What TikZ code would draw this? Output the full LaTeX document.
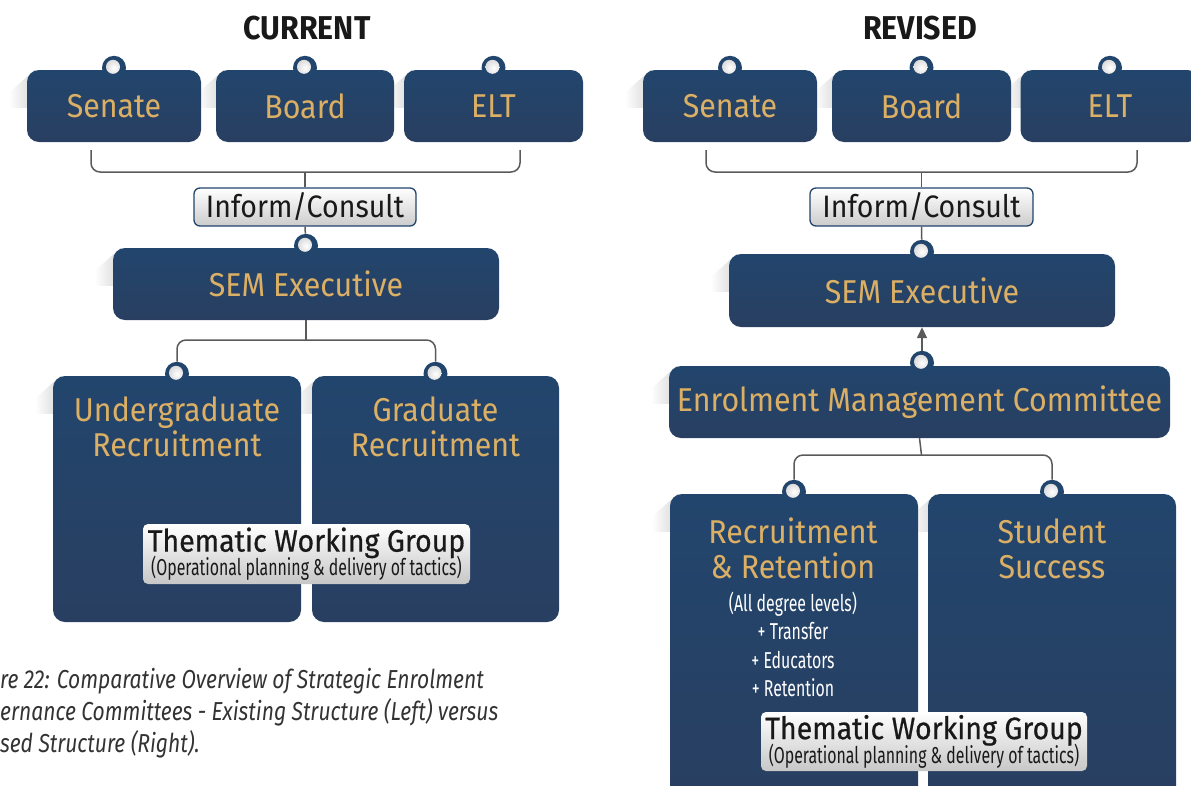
\documentclass[tikz,border=0pt]{standalone}
\usepackage{fontspec}
\setmainfont{Fira Sans}[FakeStretch=0.92]
\newfontfamily\narrowfont{Fira Sans}[FakeStretch=0.69]
\newfontfamily\groupfont{Fira Sans}[FakeStretch=0.92, FakeBold=0.6]
\newfontfamily\capfont{Fira Sans}[FakeStretch=0.81]
\usetikzlibrary{positioning, arrows.meta, backgrounds}

\definecolor{navy}{HTML}{22456D}
\definecolor{navydark}{HTML}{293F61}
\definecolor{gold}{HTML}{DCB064}
\definecolor{wire}{HTML}{5A5A5A}

\tikzset{
  unit/.style={rectangle, rounded corners=12, top color=navy, bottom color=navydark,
    text=gold, font=\fontsize{33}{35}\selectfont, align=center, inner sep=0},
  tag/.style={rectangle, rounded corners=6, top color=white, bottom color=black!20,
    draw=navy, line width=1.3, text=black!90, font=\fontsize{31}{33}\selectfont, inner sep=0},
  twg/.style={rectangle, rounded corners=5, top color=white, bottom color=black!22,
    text=black!90, align=center, inner sep=0},
  knob/.style={circle, fill=navy, minimum size=24, inner sep=0,
    path picture={\shade[inner color=white, outer color=black!20]
      ([shift={(-1,-1)}]path picture bounding box.center) circle (7);}},
  link/.style={draw=wire, line width=1.5, rounded corners=9},
  title/.style={font=\fontsize{33}{35}\selectfont\bfseries, text=black!90}
}

\begin{document}
\begin{tikzpicture}[x=1pt, y=-1pt]
  \useasboundingbox (0,0) rectangle (1191,785);

  % ---- current structure ----
  \node[title] (cur) at (307,28) {CURRENT};
  \node[unit, minimum width=174, minimum height=72] (sen) at (114,106) {Senate};
  \node[unit, minimum width=178, minimum height=72] (brd) at (305,106) {Board};
  \node[unit, minimum width=179, minimum height=72] (elt) at (493.5,106) {ELT};
  \node[tag, minimum width=222, minimum height=38] (inf) at (305,207) {Inform/Consult};
  \node[unit, minimum width=386, minimum height=72] (sem) at (306,284) {SEM Executive};
  \node[unit, minimum width=248, minimum height=246] (ug) at (177,499) {};
  \node[unit, minimum width=247, minimum height=246] (gr) at (435.5,499) {};
  \node[text=gold, font=\fontsize{33}{35}\selectfont, align=center] (ugt) at (177,427) {Undergraduate\\Recruitment};
  \node[text=gold, font=\fontsize{33}{35}\selectfont, align=center] (grt) at (435.5,427) {Graduate\\Recruitment};
  \node[twg, minimum width=327, minimum height=60] (twg) at (306.5,554)
    {\fontsize{31}{25}\selectfont\groupfont Thematic Working Group\\[-3pt]
     \fontsize{23}{20}\selectfont\narrowfont (Operational planning \& delivery of tactics)};

  \node[knob] (k1) at ([yshift=2]sen.north) {};
  \node[knob] (k2) at ([yshift=2]brd.north) {};
  \node[knob] (k3) at ([yshift=2]elt.north) {};
  \node[knob] (k4) at ([yshift=2]sem.north) {};
  \node[knob] (k5) at ([yshift=2]ug.north) {};
  \node[knob] (k6) at ([yshift=2]gr.north) {};

  \coordinate (bl) at (91,150);
  \coordinate (br) at (520,150);
  \coordinate (j0) at (305,172);
  \coordinate (j1) at (306,340);
  \draw[link] (bl) |- (j0) -| (br);
  \draw[link] (j0) -- (inf.north);
  \draw[link] (inf.south) -- (k4);
  \draw[link] (sem.south) -- (j1);
  \draw[link] (k5) |- (j1) -| (k6);

  % ---- revised structure ----
  \node[title] (rev) at (920,28) {REVISED};
  \node[unit, minimum width=174, minimum height=72] (sen2) at (730,106) {Senate};
  \node[unit, minimum width=179, minimum height=72] (brd2) at (921.5,106) {Board};
  \node[unit, minimum width=179, minimum height=72] (elt2) at (1110,106) {ELT};
  \node[tag, minimum width=223, minimum height=38] (inf2) at (921.5,207) {Inform/Consult};
  \node[unit, minimum width=386, minimum height=73] (sem2) at (922,290.5) {SEM Executive};
  \node[unit, minimum width=501, minimum height=72] (emc) at (919.5,402) {Enrolment Management Committee};
  \node[unit, minimum width=248, minimum height=306] (rr) at (794,647) {};
  \node[unit, minimum width=248, minimum height=306] (ss) at (1052,647) {};
  \node[text=gold, font=\fontsize{33}{35}\selectfont, align=center] (rrt) at (793,548.5) {Recruitment\\\& Retention};
  \node[text=gold, font=\fontsize{33}{35}\selectfont, align=center] (sst) at (1052,548.5) {Student\\Success};
  \node[text=white, font=\fontsize{23}{28.5}\selectfont\narrowfont, align=center] (rrl) at (793,644.5)
    {(All degree levels)\\+ Transfer\\+ Educators\\+ Retention};
  \node[twg, minimum width=326, minimum height=59] (twg2) at (924,741.5)
    {\fontsize{31}{25}\selectfont\groupfont Thematic Working Group\\[-3pt]
     \fontsize{23}{20}\selectfont\narrowfont (Operational planning \& delivery of tactics)};

  \node[knob] (k7) at ([yshift=2]sen2.north) {};
  \node[knob] (k8) at ([yshift=2]brd2.north) {};
  \node[knob] (k9) at ([yshift=2]elt2.north) {};
  \node[knob] (k10) at ([yshift=2]sem2.north) {};
  \node[knob] (k11) at ([xshift=2.5, yshift=3]emc.north) {};
  \node[knob] (k12) at ([yshift=2]rr.north) {};
  \node[knob] (k13) at ([yshift=2]ss.north) {};

  \coordinate (bl2) at (706,150);
  \coordinate (br2) at (1137,150);
  \coordinate (j2) at (921.5,172);
  \coordinate (j3) at (921.5,455);
  \draw[link] (bl2) |- (j2) -| (br2);
  \draw[link] (j2) -- (inf2.north);
  \draw[link] (inf2.south) -- (k10);
  \draw[link, -{Triangle[length=11pt, width=10pt]}] (k11) -- (k11 |- sem2.south);
  \draw[link] (emc.south) -- (j3);
  \draw[link] (k12) |- (j3) -| (k13);

  % soft shadows behind the boxes
  \begin{scope}[on background layer]
    \foreach \b in {sen,brd,elt,sem,ug,gr,sen2,brd2,elt2,sem2,emc,rr,ss}
      \shade[left color=white, right color=black!16]
        ([xshift=8]\b.north west) -- ([shift={(-18,23)}]\b.north west)
        -- ([shift={(-18,38)}]\b.north west) -- ([shift={(2,38)}]\b.north west) -- cycle;
  \end{scope}

  % caption
  \node[anchor=north west, inner sep=0, align=left, text=black!80,
    font=\fontsize{26}{32}\selectfont\capfont\itshape] (cap) at (0,668)
    {re 22: Comparative Overview of Strategic Enrolment\\
     ernance Committees - Existing Structure (Left) versus\\
     sed Structure (Right).};
\end{tikzpicture}
\end{document}
